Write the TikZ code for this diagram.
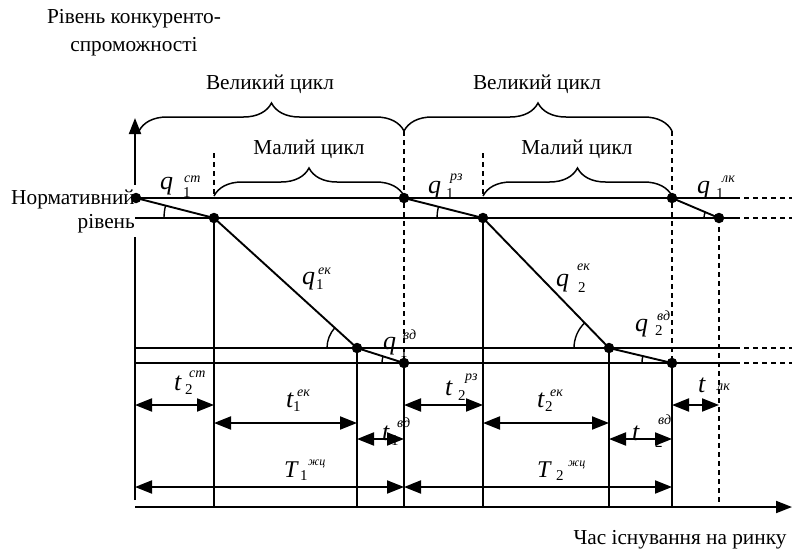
\documentclass[tikz,border=0pt]{standalone}
\usepackage{fontspec}
\setmainfont{Liberation Serif}
\usetikzlibrary{arrows.meta,decorations.pathreplacing}

\begin{document}
\begin{tikzpicture}[x=1pt,y=-1pt,
  thickline/.style={line width=1.9pt},
  dashline/.style={line width=1.2pt, dash pattern=on 5pt off 4pt},
  axis/.style={line width=1.9pt, -{Triangle[length=16pt,width=12pt]}},
  dot/.style={circle, fill=black, inner sep=0pt, minimum size=10.5pt},
  dim/.style={line width=1.9pt, {Triangle[length=17pt,width=13pt]}-{Triangle[length=17pt,width=13pt]}},
  curly/.style={decorate, decoration={brace, amplitude=28pt}, line width=1.5pt},
  anglearc/.style={line width=1.4pt},
  lbl/.style={font=\fontsize{21.3}{28}\selectfont, inner sep=0pt},
  sym/.style={font=\fontsize{26}{26}\selectfont\itshape, inner sep=0pt, anchor=base west},
  Tsym/.style={font=\fontsize{24}{24}\selectfont\itshape, inner sep=0pt, anchor=base west},
  idx/.style={font=\fontsize{15}{15}\selectfont, inner sep=0pt, anchor=base west},
  up/.style={font=\fontsize{14}{14}\selectfont\itshape, inner sep=0pt, anchor=base west},
  upsmall/.style={font=\fontsize{12}{12}\selectfont\itshape, inner sep=0pt, anchor=base west},
]
\useasboundingbox (0,0) rectangle (792,555);

% axes
\coordinate (O) at (135,507);
\coordinate (Yb) at (135,500);
\coordinate (Ytop) at (135,118);
\coordinate (Xend) at (792,507);
\draw[axis] (Yb) -- (Ytop);
\draw[axis] (O) -- (Xend);

% axis captions
\node[lbl, align=center] (ylabel) at (134,33) {Рівень конкуренто-\\спроможності};
\node[lbl, font=\fontsize{21.3}{24}\selectfont, align=right, anchor=east,
      fill=white, inner xsep=2pt, inner ysep=4pt] (norm) at (137,211) {Нормативний\\рівень};
\node[lbl] (xlabel) at (680,540) {Час існування на ринку};

% level lines: solid part, then dashed continuation
\foreach \n/\y in {1/198,2/218,3/348,4/363}{
  \coordinate (h\n a) at (135,\y);
  \coordinate (h\n b) at (735,\y);
  \coordinate (h\n c) at (792,\y);
  \draw[thickline] (h\n a) -- (h\n b);
  \draw[dashline] (h\n b) -- (h\n c);
}

% characteristic points
\coordinate (P0) at (136,198);
\coordinate (P1) at (214,218);
\coordinate (P2) at (357,348);
\coordinate (P3) at (404,363);
\coordinate (P4) at (404,198);
\coordinate (P5) at (483,218);
\coordinate (P6) at (609,348);
\coordinate (P7) at (672,363);
\coordinate (P8) at (672,198);
\coordinate (P9) at (719,218);

% feet on the time axis
\coordinate (F1) at (214,507);
\coordinate (F2) at (357,507);
\coordinate (F3) at (404,507);
\coordinate (F5) at (483,507);
\coordinate (F6) at (609,507);
\coordinate (F7) at (672,507);
\coordinate (F9) at (719,507);

% tops of dashed guides
\coordinate (D1) at (214,153);
\coordinate (D5) at (483,153);
\coordinate (D4) at (404,131);
\coordinate (D8) at (672,131);

% vertical guides
\draw[thickline] (P1) -- (F1);
\draw[thickline] (P2) -- (F2);
\draw[thickline] (P3) -- (F3);
\draw[thickline] (P5) -- (F5);
\draw[thickline] (P6) -- (F6);
\draw[thickline] (P7) -- (F7);
\draw[dashline] (D1) -- (h1a -| D1);
\draw[dashline] (D5) -- (h1a -| D5);
\draw[dashline] (D4) -- (P3);
\draw[dashline] (D8) -- (P7);
\draw[dashline] (P9) -- (F9);

% competitiveness curve
\draw[thickline] (P0) -- (P1) -- (P2) -- (P3);
\draw[thickline] (P4) -- (P5) -- (P6) -- (P7);
\draw[thickline] (P8) -- (P9);

% slope angles
\draw[anglearc] ([shift={(180:50)}]P1) arc[start angle=180, end angle=194, radius=50];
\draw[anglearc] ([shift={(180:46)}]P5) arc[start angle=180, end angle=194, radius=46];
\draw[anglearc] ([shift={(180:15)}]P9) arc[start angle=180, end angle=203, radius=15];
\draw[anglearc] ([shift={(180:30)}]P2) arc[start angle=180, end angle=222, radius=30];
\draw[anglearc] ([shift={(180:35)}]P6) arc[start angle=180, end angle=226, radius=35];
\draw[anglearc] ([shift={(180:22)}]P3) arc[start angle=180, end angle=197, radius=22];
\draw[anglearc] ([shift={(180:30)}]P7) arc[start angle=180, end angle=193, radius=30];

% dots
\foreach \i in {0,...,9}{ \node[dot] (d\i) at (P\i) {}; }

% cycle braces
\coordinate (B0) at (139,131);
\draw[curly] (B0) -- (D4);
\draw[curly] (D4) -- (D8);
\coordinate (S1) at (214,196);
\coordinate (S2) at (404,196);
\coordinate (S3) at (483,196);
\coordinate (S4) at (672,196);
\draw[curly] (S1) -- (S2);
\draw[curly] (S3) -- (S4);
\node[lbl] (big1) at (270,84) {Великий цикл};
\node[lbl] (big2) at (537,84) {Великий цикл};
\node[lbl] (small1) at (309,149) {Малий цикл};
\node[lbl] (small2) at (577,149) {Малий цикл};

% duration arrows
\coordinate (r1) at (0,405);
\coordinate (r2) at (0,423);
\coordinate (r3) at (0,439);
\coordinate (r4) at (0,487);
\draw[dim] (O |- r1) -- (F1 |- r1);
\draw[dim] (F1 |- r2) -- (F2 |- r2);
\draw[dim] (F2 |- r3) -- (F3 |- r3);
\draw[dim] (O |- r4) -- (F3 |- r4);
\draw[dim] (F3 |- r1) -- (F5 |- r1);
\draw[dim] (F5 |- r2) -- (F6 |- r2);
\draw[dim] (F6 |- r3) -- (F7 |- r3);
\draw[dim] (F3 |- r4) -- (F7 |- r4);
\draw[dim] (F7 |- r1) -- (F9 |- r1);

% level labels
\node[sym] (q1st) at (160,189) {q};
\node[idx] (q1stS) at (183,197) {1};
\node[up]  (q1stU) at (184,182) {ст};

\node[sym] (q1rz) at (428,193) {q};
\node[idx] (q1rzS) at (446,198) {1};
\node[up]  (q1rzU) at (450,180) {рз};

\node[sym] (q1lk) at (697,193) {q};
\node[idx] (q1lkS) at (716,198) {1};
\node[up]  (q1lkU) at (722,182) {лк};

\node[sym] (q1ek) at (302,284) {q};
\node[idx] (q1ekS) at (316,289) {1};
\node[up]  (q1ekU) at (318,274) {ек};

\node[sym] (q2ek) at (556,286) {q};
\node[idx] (q2ekS) at (578,292) {2};
\node[up]  (q2ekU) at (577,270) {ек};

\node[sym] (q1vd) at (383,349) {q};
\node[idx] (q1vdS) at (400,357) {1};
\node[up]  (q1vdU) at (403,339) {вд};

\node[sym] (q2vd) at (635,331) {q};
\node[idx] (q2vdS) at (655,335) {2};
\node[up]  (q2vdU) at (657,320) {вд};

% duration labels
\node[sym] (t2st) at (174,390) {t};
\node[idx] (t2stS) at (185,394) {2};
\node[up]  (t2stU) at (189,377) {ст};

\node[sym] (t1ek) at (286,407) {t};
\node[idx] (t1ekS) at (293,411) {1};
\node[up]  (t1ekU) at (297,396) {ек};

\node[sym] (t1vd) at (382,440) {t};
\node[idx] (t1vdS) at (391,445) {1};
\node[up]  (t1vdU) at (397,427) {вд};

\node[sym] (t2rz) at (445,395) {t};
\node[idx] (t2rzS) at (458,400) {2};
\node[up]  (t2rzU) at (465,380) {рз};

\node[sym] (t2ek) at (537,407) {t};
\node[idx] (t2ekS) at (545,411) {2};
\node[up]  (t2ekU) at (550,396) {ек};

\node[sym] (t2vd) at (632,440) {t};
\node[idx] (t2vdS) at (655,447) {2};
\node[up]  (t2vdU) at (658,424) {вд};

\node[sym] (tlk) at (698,392) {t};
\node[up]  (tlkU) at (717,390) {лк};

\node[Tsym] (T1) at (284,477) {T};
\node[idx]  (T1S) at (300,480) {1};
\node[upsmall] (T1U) at (308,465) {жц};

\node[Tsym] (T2) at (537,477) {T};
\node[idx]  (T2S) at (556,480) {2};
\node[upsmall] (T2U) at (568,466) {жц};
\end{tikzpicture}
\end{document}
